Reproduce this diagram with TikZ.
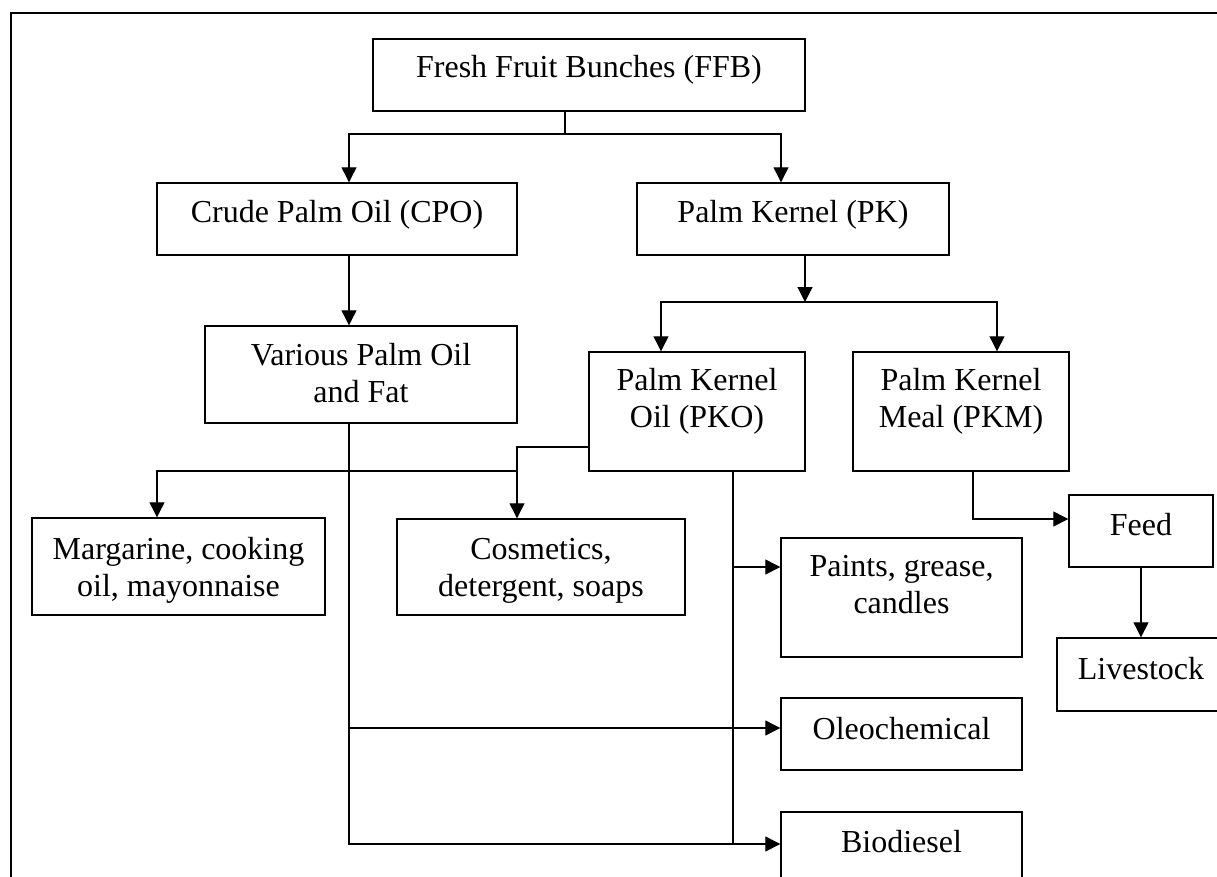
\documentclass[tikz,border=0pt]{standalone}
\usepackage{fontspec}
\setmainfont{Liberation Serif}
\usetikzlibrary{arrows.meta}
\newcommand\bt[2]{\raisebox{#1pt}[0pt][0pt]{\begin{tabular}[t]{@{}c@{}}#2\end{tabular}}}
\tikzset{
  box/.style={draw, line width=1.4pt, inner sep=0pt, fill=white,
    font=\fontsize{32}{37}\selectfont},
  conn/.style={line width=1.2pt},
  arr/.style={conn, -{Triangle[length=15pt,width=15pt]}},
  frame/.style={line width=2.2pt}
}
\begin{document}
\begin{tikzpicture}[x=1pt,y=-1pt]
\useasboundingbox (0,0) rectangle (1217,877);
\clip (0,0) rectangle (1217,877);
\draw[frame] (11,13) rectangle (1260,920);

% boxes
\node[box, minimum width=432pt, minimum height=72pt] (ffb) at (589,75) {\bt{-3}{Fresh Fruit Bunches (FFB)}};
\node[box, minimum width=360pt, minimum height=72pt] (cpo) at (337,219) {\bt{-4}{Crude Palm Oil (CPO)}};
\node[box, minimum width=312pt, minimum height=72pt] (pk) at (793,219) {\bt{-4}{Palm Kernel (PK)}};
\node[box, minimum width=312pt, minimum height=97pt] (var) at (361,374.5) {\bt{9.5}{Various Palm Oil\\and Fat}};
\node[box, minimum width=216pt, minimum height=119pt] (pko) at (697,411.5) {\bt{20.8}{Palm Kernel\\Oil (PKO)}};
\node[box, minimum width=216pt, minimum height=119pt] (pkm) at (961,411.5) {\bt{20.8}{Palm Kernel\\Meal (PKM)}};
\node[box, minimum width=293pt, minimum height=97pt] (mar) at (178.5,566.5) {\bt{7.5}{Margarine, cooking\\oil, mayonnaise}};
\node[box, minimum width=288pt, minimum height=96pt] (cos) at (541,567) {\bt{8}{Cosmetics,\\detergent, soaps}};
\node[box, minimum width=241pt, minimum height=119pt] (pnt) at (901.5,597.5) {\bt{20.8}{Paints, grease,\\candles}};
\node[box, minimum width=241pt, minimum height=72pt] (ole) at (901.5,734) {\bt{-5.3}{Oleochemical}};
\node[box, minimum width=241pt, minimum height=72pt] (bio) at (901.5,848) {\bt{-4.7}{Biodiesel}};
\node[box, minimum width=144pt, minimum height=72pt] (feed) at (1141,531) {\bt{-4.7}{Feed}};
\node[box, minimum width=168pt, minimum height=73pt] (live) at (1141,674.5) {\bt{-4.8}{Livestock}};

% junction coordinates
\coordinate (j1) at (565,134);
\coordinate (jl) at (349,134);
\coordinate (jr) at (781,134);
\coordinate (j2) at (805,302);
\coordinate (j2l) at (661,302);
\coordinate (j2r) at (997,302);
\coordinate (j3) at (349,844);
\coordinate (j4) at (349,471);
\coordinate (j4l) at (157,471);
\coordinate (j4r) at (517,471);
\coordinate (j5) at (517,447);
\coordinate (j6) at (349,728);
\coordinate (j7) at (733,844);
\coordinate (j8) at (733,567);
\coordinate (j9) at (973,519);

% connectors
\draw[conn] (ffb.south -| j1) -- (j1);
\draw[arr] (j1) -- (jl) -- (cpo.north -| jl);
\draw[arr] (j1) -- (jr) -- (pk.north -| jr);
\draw[arr] (cpo.south -| jl) -- (var.north -| jl);
\draw[arr] (pk.south -| j2) -- (j2);
\draw[arr] (j2) -- (j2l) -- (pko.north -| j2l);
\draw[arr] (j2) -- (j2r) -- (pkm.north -| j2r);
\draw[arr] (var.south -| j3) -- (j3) -- (bio.west |- j3);
\draw[arr] (j4) -- (j4l) -- (mar.north -| j4l);
\draw[arr] (j4) -- (j4r) -- (cos.north -| j4r);
\draw[conn] (pko.west |- j5) -- (j5) -- (j4r);
\draw[arr] (j6) -- (ole.west |- j6);
\draw[conn] (pko.south -| j7) -- (j7);
\draw[arr] (j8) -- (pnt.west |- j8);
\draw[arr] (pkm.south -| j9) -- (j9) -- (feed.west |- j9);
\draw[arr] (feed.south) -- (live.north);
\end{tikzpicture}
\end{document}
